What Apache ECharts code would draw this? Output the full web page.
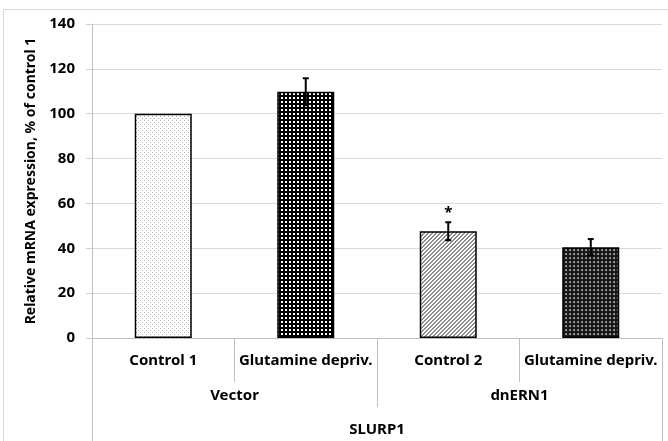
<!DOCTYPE html>
<html>
<head>
<meta charset="utf-8">
<script src="https://cdn.jsdelivr.net/npm/echarts@6/dist/echarts.min.js"></script>
<style>
  html, body { margin: 0; padding: 0; background: #fff; }
  #chart { width: 668px; height: 441px; }
</style>
</head>
<body>
<div id="chart"></div>
<script>
// values
const conditions = ['Control 1', 'Glutamine depriv.', 'Control 2', 'Glutamine depriv.']
const groups = ['Vector', 'dnERN1']
const gene = ['SLURP1']
const expression = [100, 109.8, 47.6, 40.5]
const errors = [0, 6, 4, 3.6]
const marks = ['', '', '*', '']
const yTicks = [0, 20, 40, 60, 80, 100, 120, 140]

const FONT = 'Noto Sans'
const AXIS_GRAY = '#bfbfbf'

// small fill patterns, like the Excel ones
function makePattern(size, bg, draw) {
  const c = document.createElement('canvas')
  c.width = size
  c.height = size
  const ctx = c.getContext('2d')
  ctx.fillStyle = bg
  ctx.fillRect(0, 0, size, size)
  draw(ctx)
  return { image: c, repeat: 'repeat' }
}

const patterns = [
  // fine light dots
  makePattern(4, '#ffffff', ctx => {
    ctx.fillStyle = '#b4b4b4'
    ctx.fillRect(0, 0, 1, 1)
    ctx.fillRect(2, 2, 1, 1)
  }),
  // black grid with white holes
  makePattern(4, '#000000', ctx => {
    ctx.fillStyle = '#ffffff'
    ctx.fillRect(1, 1, 2, 2)
  }),
  // gray diagonal
  makePattern(4, '#ffffff', ctx => {
    ctx.fillStyle = '#8c8c8c'
    for (let x = 0; x < 4; x++) {
      for (let y = 0; y < 4; y++) {
        if ((x + y) % 4 < 2) ctx.fillRect(x, y, 1, 1)
      }
    }
  }),
  // dark checker
  makePattern(4, '#1a1a1a', ctx => {
    ctx.fillStyle = '#7d7d7d'
    ctx.fillRect(1, 1, 2, 2)
    ctx.fillStyle = '#bdbdbd'
    ctx.fillRect(2, 2, 1, 1)
  })
]

const chart = echarts.init(document.getElementById('chart'))

const labelStyle = { fontFamily: FONT, fontWeight: 'bold', fontSize: 15, color: '#000' }

const option = {
  backgroundColor: '#ffffff',
  animation: false,
  textStyle: { fontFamily: FONT },
  graphic: [
    {
      type: 'rect',
      shape: { x: 3.5, y: 9.5, width: 700, height: 500 },
      style: { fill: 'none', stroke: '#d9d9d9', lineWidth: 1 },
      silent: true,
      z: -10
    }
  ],
  grid: {
    left: 92,
    right: 6,
    top: 24,
    bottom: 103,
    outerBoundsMode: 'none'
  },
  yAxis: {
    type: 'value',
    min: 0,
    max: 140,
    interval: 20,
    name: 'Relative mRNA expression, % of control 1',
    nameLocation: 'middle',
    nameRotate: 90,
    nameGap: 54,
    nameTextStyle: { fontFamily: FONT, fontWeight: 'bold', fontSize: 14, color: '#000' },
    axisLine: { show: true, lineStyle: { color: AXIS_GRAY, width: 1 } },
    axisTick: { show: true, length: 6, lineStyle: { color: '#d0d0d0' } },
    axisLabel: {
      margin: 17,
      fontFamily: FONT,
      fontWeight: 'bold',
      fontSize: 15,
      color: '#000',
      formatter: v => (yTicks.includes(v) ? String(v) : '')
    },
    splitLine: { show: true, lineStyle: { color: '#d9d9d9', width: 1 } }
  },
  xAxis: [
    {
      type: 'category',
      data: conditions,
      position: 'bottom',
      axisLine: { show: true, lineStyle: { color: AXIS_GRAY } },
      axisTick: { show: true, interval: 0, length: 44, lineStyle: { color: AXIS_GRAY } },
      axisLabel: Object.assign({ interval: 0, margin: 15 }, labelStyle)
    },
    {
      type: 'category',
      data: groups,
      position: 'bottom',
      axisLine: { show: false },
      axisTick: { show: true, interval: 0, length: 69, lineStyle: { color: AXIS_GRAY } },
      axisLabel: Object.assign({ interval: 0, margin: 50 }, labelStyle)
    },
    {
      type: 'category',
      data: gene,
      position: 'bottom',
      axisLine: { show: false },
      axisTick: { show: true, interval: 0, length: 110, lineStyle: { color: AXIS_GRAY } },
      axisLabel: Object.assign({ interval: 0, margin: 84 }, labelStyle)
    }
  ],
  series: [
    {
      type: 'bar',
      xAxisIndex: 0,
      barWidth: 57,
      data: expression.map((v, i) => ({
        value: v,
        itemStyle: { color: patterns[i], borderColor: '#000', borderWidth: 1.5 }
      }))
    },
    {
      type: 'custom',
      xAxisIndex: 0,
      data: expression.map((v, i) => [i, v, errors[i]]),
      encode: { x: 0, y: 1 },
      z: 5,
      renderItem: (params, api) => {
        const i = api.value(0)
        const v = api.value(1)
        const e = api.value(2)
        const hi = api.coord([i, v + e])
        const lo = api.coord([i, v - e])
        const children = []
        const stroke = { stroke: '#000', lineWidth: 2 }
        if (e > 0) {
          children.push({ type: 'line', shape: { x1: hi[0], y1: hi[1], x2: lo[0], y2: lo[1] }, style: stroke })
          children.push({ type: 'line', shape: { x1: hi[0] - 3, y1: hi[1], x2: hi[0] + 3, y2: hi[1] }, style: stroke })
          children.push({ type: 'line', shape: { x1: lo[0] - 3, y1: lo[1], x2: lo[0] + 3, y2: lo[1] }, style: stroke })
        }
        if (marks[i]) {
          children.push({
            type: 'text',
            style: {
              text: marks[i],
              x: hi[0],
              y: hi[1] - 2,
              align: 'center',
              verticalAlign: 'bottom',
              font: 'bold 15px "' + FONT + '"',
              fill: '#000'
            }
          })
        }
        return { type: 'group', children }
      }
    }
  ]
}

chart.setOption(option)
</script>
</body>
</html>
